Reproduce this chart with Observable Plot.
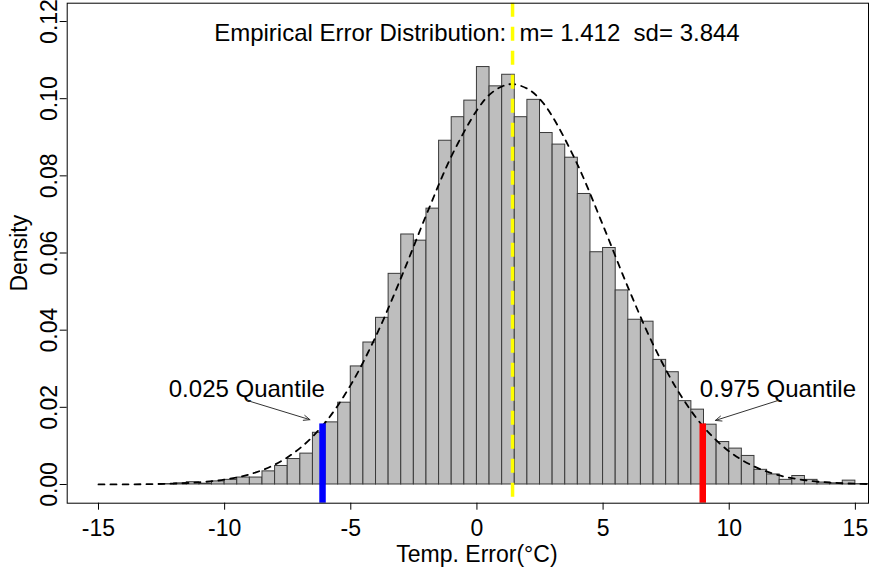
<!DOCTYPE html>
<html>
<head>
<meta charset="utf-8">
<script src="https://cdn.jsdelivr.net/npm/d3@7"></script>
<script src="https://cdn.jsdelivr.net/npm/@observablehq/plot@0.6"></script>
<style>
  html, body { margin: 0; padding: 0; background: white; }
</style>
</head>
<body>
<div id="chart"></div>
<script>
// Histogram bins (left edges, width 0.5) and densities
const binLeft = [-12.5, -12, -11.5, -11, -10.5, -10, -9.5, -9, -8.5, -8, -7.5, -7, -6.5, -6, -5.5, -5, -4.5, -4, -3.5, -3, -2.5, -2, -1.5, -1, -0.5,
  0, 0.5, 1, 1.5, 2, 2.5, 3, 3.5, 4, 4.5, 5, 5.5, 6, 6.5, 7, 7.5, 8, 8.5, 9, 9.5, 10, 10.5, 11, 11.5, 12, 12.5, 13, 13.5, 14, 14.5, 15];
const binDensity = [0.0001, 0.0003, 0.0006, 0.0002, 0.0008, 0.0012, 0.0018, 0.0018, 0.0034, 0.0048, 0.0066, 0.0080, 0.0134, 0.0161, 0.0212, 0.0306, 0.0368, 0.0432, 0.0546, 0.0648, 0.0632, 0.0715, 0.0891, 0.0952, 0.0995,
  0.1082, 0.1032, 0.1062, 0.0952, 0.0997, 0.0911, 0.0881, 0.0847, 0.0753, 0.0602, 0.0613, 0.0503, 0.0427, 0.0422, 0.0323, 0.0291, 0.0216, 0.0194, 0.0155, 0.0110, 0.0093, 0.0074, 0.0038, 0.0026, 0.0012, 0.0022, 0.0012, 0.0005, 0.0003, 0.0010, 0.0001];
const binWidth = 0.5;

// Dashed fitted curve
const curveX = [-15, -14, -13, -12, -11, -10, -9, -8, -7, -6, -5, -4, -3, -2, -1, 0, 0.5, 1, 1.412, 2, 2.5, 3, 4, 5, 6, 7, 8, 9, 10, 11, 12, 13, 14, 15, 15.5];
const curveY = [0.00001, 0.00003, 0.00009, 0.00024, 0.00056, 0.00127, 0.00265, 0.00518, 0.00948, 0.01617, 0.02582, 0.03852, 0.0537, 0.06998, 0.08523, 0.09701, 0.10106, 0.10319, 0.10378, 0.10258, 0.09985, 0.09529, 0.08273, 0.06713, 0.05091, 0.03608, 0.0239, 0.0148, 0.00856, 0.00463, 0.00234, 0.0011, 0.00049, 0.0002, 0.00012];

const meanValue = 1.412;
const sdValue = 3.844;
const quantileLow = -6.12;
const quantileHigh = 8.95;
const quantileTop = 0.0157;

const xTicks = [-15, -10, -5, 0, 5, 10, 15];
const yTicks = [0, 0.02, 0.04, 0.06, 0.08, 0.10, 0.12];

const titleText = "Empirical Error Distribution:\u00a0\u00a0m= " + meanValue.toFixed(3) + "\u00a0\u00a0sd= " + sdValue.toFixed(3);
const xLabel = "Temp. Error(°C)";
const yLabel = "Density";
const annotations = [
  {label: "0.025 Quantile", x: -9.12, y: 0.0247},
  {label: "0.975 Quantile", x: 11.93, y: 0.0247}
];
const arrowsData = [
  {x1: -9.12, y1: 0.0218, x2: -6.62, y2: 0.0168},
  {x1: 11.95, y1: 0.0218, x2: 9.45, y2: 0.0166}
];

const bins = binLeft.map((x, i) => ({x1: x, x2: x + binWidth, y: binDensity[i]}));
const curve = curveX.map((x, i) => ({x, y: curveY[i]}));

const xDomain = [-16.24, 15.52];
const yDomain = [-0.00485, 0.12475];

const chart = Plot.plot({
  width: 878,
  height: 569,
  marginLeft: 66.7,
  marginRight: 10,
  marginTop: 2.7,
  marginBottom: 66.3,
  style: {fontFamily: "'Liberation Sans', Arial, sans-serif", fontSize: "24px", background: "white", color: "black"},
  x: {domain: xDomain},
  y: {domain: yDomain},
  marks: [
    Plot.rectY(bins, {x1: "x1", x2: "x2", y1: 0, y2: "y", fill: "#BEBEBE", stroke: "#3a3a3a", strokeWidth: 1, inset: 0}),
    Plot.line(curve, {x: "x", y: "y", stroke: "black", strokeWidth: 1.8, strokeDasharray: "6,6", curve: "catmull-rom"}),
    Plot.ruleX([meanValue], {stroke: "yellow", strokeWidth: 3.5, strokeDasharray: "14,10"}),
    Plot.ruleX([quantileLow], {y1: yDomain[0], y2: quantileTop, stroke: "blue", strokeWidth: 6.5}),
    Plot.ruleX([quantileHigh], {y1: yDomain[0], y2: quantileTop, stroke: "red", strokeWidth: 6.5}),
    Plot.text([titleText], {x: 0, y: 0.1169, text: d => d, fontSize: 24, fill: "black", lineAnchor: "middle"}),
    Plot.text(annotations, {x: "x", y: "y", text: "label", fontSize: 24, fill: "black", lineAnchor: "middle"}),
    Plot.arrow(arrowsData, {x1: "x1", y1: "y1", x2: "x2", y2: "y2", stroke: "#333", strokeWidth: 1, headLength: 10, headAngle: 45}),
    Plot.frame({stroke: "black", strokeWidth: 1}),
    Plot.axisX({ticks: xTicks, tickFormat: d => String(d), tickSize: 7, tickPadding: 9, fontSize: 23, label: null}),
    Plot.text([xLabel], {x: 0, frameAnchor: "bottom", dy: 59, text: d => d, fontSize: 23, fill: "black", lineAnchor: "bottom"}),
    Plot.axisY({ticks: yTicks, tickFormat: d3.format(".2f"), tickSize: 7, tickRotate: -90, fontSize: 23, label: yLabel, labelAnchor: "center", labelOffset: 57, labelArrow: "none"})
  ]
});
document.getElementById("chart").appendChild(chart);
</script>
</body>
</html>
